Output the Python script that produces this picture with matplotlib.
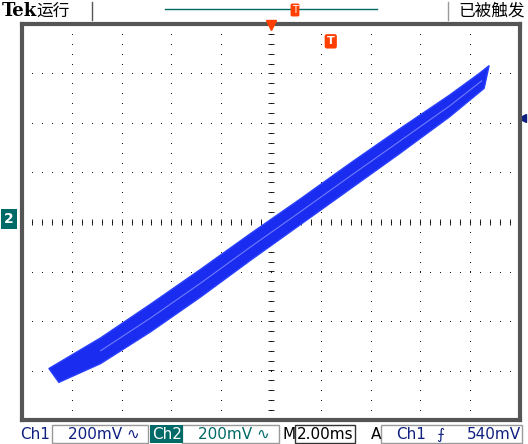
import numpy as np
import matplotlib
matplotlib.use('Agg')
import matplotlib.pyplot as plt
from matplotlib.patches import Rectangle, Polygon

plt.rcParams['font.family'] = ['DejaVu Sans', 'Noto Sans CJK SC']

# XY trace envelope, in divisions (200 mV/div on both channels)
upper_x = [-4.46, -3.42, -2.42, -1.42, -0.42, 0.58, 1.58, 2.58, 3.58, 4.18, 4.38]
upper_y = [-2.96, -2.34, -1.66, -0.96, -0.24, 0.46, 1.18, 1.88, 2.56, 3.00, 3.16]
lower_x = [-4.26, -3.42, -2.42, -1.42, -0.42, 0.58, 1.58, 2.58, 3.58, 4.28]
lower_y = [-3.24, -2.86, -2.22, -1.52, -0.78, -0.06, 0.66, 1.38, 2.12, 2.70]

W, H = 528, 444
fig = plt.figure(figsize=(W / 100, H / 100), dpi=100)
fig.patch.set_facecolor('white')
ax = fig.add_axes([22 / W, 24 / H, 498 / W, 396 / H])
ax.set_xlim(-5, 5)
ax.set_ylim(-4, 4)
ax.set_xticks([])
ax.set_yticks([])
for s in ax.spines.values():
    s.set_color('#555555')
    s.set_linewidth(3)

dot = dict(ls='none', marker='s', ms=0.6, mew=0, color='black')
# graticule dots
for gx in range(-4, 5):
    ys = np.arange(-4, 4.01, 0.2)
    ax.plot([gx] * len(ys), ys, **dot)
for gy in range(-3, 4):
    xs = np.arange(-5, 5.01, 0.2)
    ax.plot(xs, [gy] * len(xs), **dot)
# center-axis tick marks
t = np.arange(-5, 5.01, 0.2)
ax.plot(t, [0] * len(t), ls='none', marker='|', ms=4, mew=0.6, color='black')
t = np.arange(-4, 4.01, 0.2)
ax.plot([0] * len(t), t, ls='none', marker='_', ms=4, mew=0.6, color='black')

# trace band
poly = list(zip(upper_x, upper_y)) + list(zip(lower_x[::-1], lower_y[::-1]))
ax.add_patch(Polygon(poly, closed=True, facecolor='#1a2cf0', edgecolor='#2a40ff', lw=1, zorder=3))
mid_x = [(a + b) / 2 for a, b in zip(upper_x[1:-1], lower_x[1:])]
mid_y = [(a + b) / 2 for a, b in zip(upper_y[1:-1], lower_y[1:])]
ax.plot(mid_x, mid_y, color='#6f7cff', lw=0.8, zorder=4)

# trigger markers
ax.plot([0], [3.97], marker='v', ms=7, color='#ff4000', clip_on=False, zorder=5)
ax.text(1.2, 3.65, 'T', color='white', fontsize=8, fontweight='bold', ha='center', va='center',
        bbox=dict(boxstyle='round,pad=0.2', fc='#ff4000', ec='none'), zorder=5)
ax.plot([5.05], [2.1], marker='<', ms=6, color='#102080', clip_on=False)
fig.text(4 / W, 1 - 219 / H, '2', color='white', fontsize=10, fontweight='bold', va='center',
         bbox=dict(boxstyle='square,pad=0.2', fc='#006a68', ec='none'))

# header
fig.text(2 / W, 1 - 11 / H, 'Tek', fontsize=13, fontweight='bold', va='center', family='serif')
fig.text(36 / W, 1 - 11 / H, '运行', fontsize=12, va='center', family=['Noto Sans CJK SC'])
fig.text(525 / W, 1 - 11 / H, '已被触发', fontsize=12, va='center', ha='right', family=['Noto Sans CJK SC'])
fig.add_artist(plt.Line2D([165 / W, 377 / W], [1 - 9 / H, 1 - 9 / H], color='#006a68', lw=1))
fig.add_artist(plt.Line2D([92 / W, 92 / W], [1 - 2 / H, 1 - 20 / H], color='#555555', lw=1))
fig.add_artist(plt.Line2D([448 / W, 448 / W], [1 - 2 / H, 1 - 20 / H], color='#999999', lw=1))
fig.text(295 / W, 1 - 10 / H, 'T', fontsize=7, color='white', ha='center', va='center',
         bbox=dict(boxstyle='round,pad=0.15', fc='#ff4000', ec='none'))

# footer
fy = 1 - 434 / H
navy = '#102080'
teal = '#006a68'
fs = 11
fig.text(20 / W, fy, 'Ch1', color=navy, fontsize=fs, va='center')
fig.text(68 / W, fy, '200mV ∿', color=navy, fontsize=fs, va='center')
fig.text(152 / W, fy, 'Ch2', color='white', fontsize=fs, va='center',
         bbox=dict(boxstyle='square,pad=0.1', fc=teal, ec='none'))
fig.text(198 / W, fy, '200mV ∿', color=teal, fontsize=fs, va='center')
fig.text(283 / W, fy, 'M', color='black', fontsize=fs, va='center')
fig.text(297 / W, fy, '2.00ms', color='black', fontsize=fs, va='center')
fig.text(371 / W, fy, 'A', color='black', fontsize=fs, va='center')
fig.text(396 / W, fy, 'Ch1', color=navy, fontsize=fs, va='center')
fig.text(436 / W, fy, '⨍', color=navy, fontsize=fs, va='center')
fig.text(521 / W, fy, '540mV', color=navy, fontsize=fs, va='center', ha='right')
for x0, x1, c in [(52, 148, '#999999'), (182, 279, '#999999'), (295, 355, '#333333'), (381, 522, '#999999')]:
    fig.add_artist(Rectangle((x0 / W, 1 - 443 / H), (x1 - x0) / W, 18 / H, fill=False, ec=c, lw=1))

fig.savefig('out.png', dpi=100)
